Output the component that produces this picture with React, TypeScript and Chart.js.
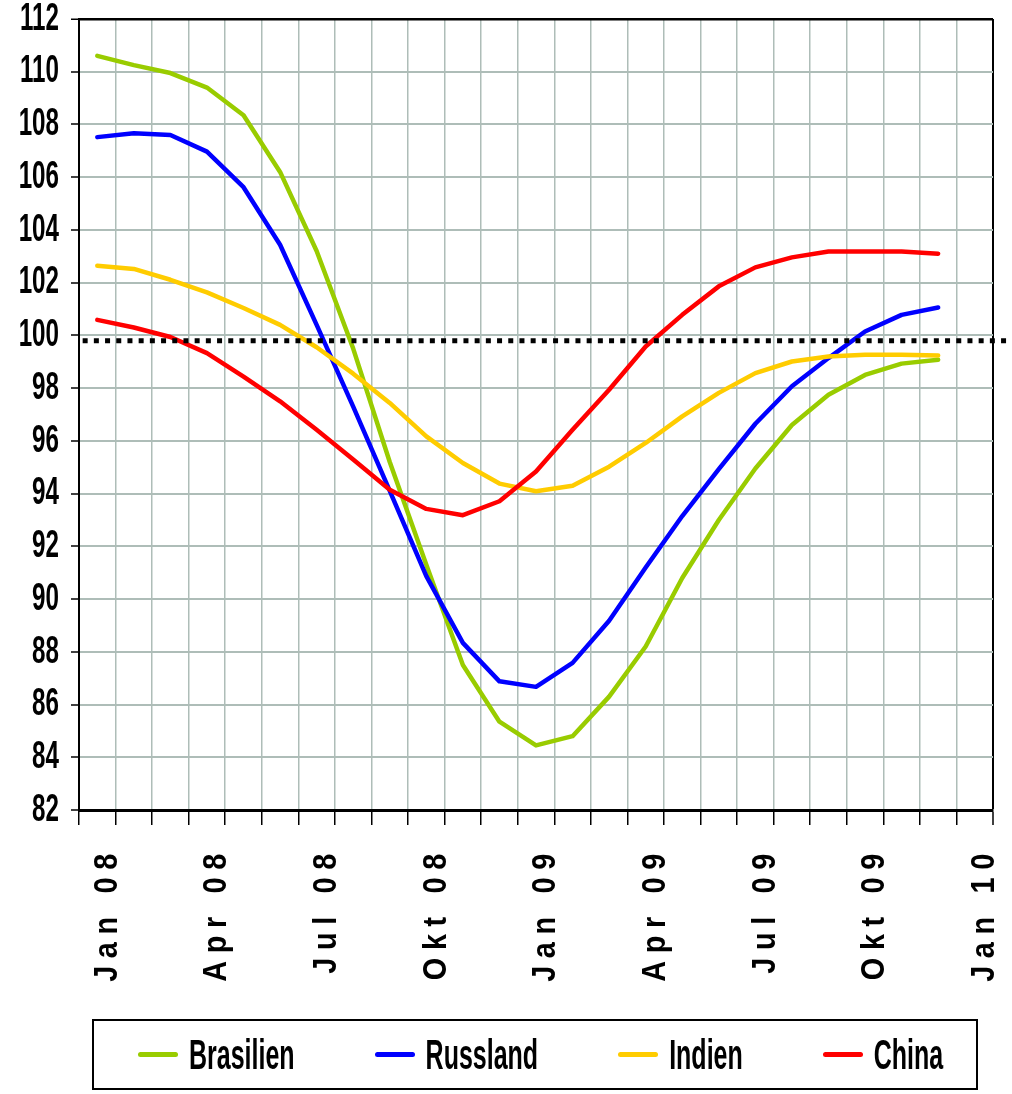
import React, { useEffect, useRef } from 'react';
import { Chart, registerables } from 'chart.js';

Chart.register(...registerables);

// ---- data ----
const months = [
  'Jan 08', 'Feb 08', 'Mrz 08', 'Apr 08', 'Mai 08', 'Jun 08', 'Jul 08', 'Aug 08', 'Sep 08', 'Okt 08', 'Nov 08', 'Dez 08',
  'Jan 09', 'Feb 09', 'Mrz 09', 'Apr 09', 'Mai 09', 'Jun 09', 'Jul 09', 'Aug 09', 'Sep 09', 'Okt 09', 'Nov 09', 'Dez 09',
  'Jan 10',
];
const shownLabels = ['Jan 08', 'Apr 08', 'Jul 08', 'Okt 08', 'Jan 09', 'Apr 09', 'Jul 09', 'Okt 09', 'Jan 10'];

const brasilien = [110.6, 110.25, 109.95, 109.4, 108.35, 106.2, 103.2, 99.5, 95.2, 91.3, 87.5, 85.35, 84.45, 84.8, 86.3, 88.2, 90.8, 93.0, 94.95, 96.6, 97.75, 98.5, 98.93, 99.08];
const russland = [107.52, 107.67, 107.6, 106.97, 105.62, 103.44, 100.4, 97.3, 94.1, 90.87, 88.34, 86.88, 86.67, 87.58, 89.18, 91.2, 93.15, 94.93, 96.65, 98.07, 99.14, 100.15, 100.78, 101.06];
const indien = [102.64, 102.52, 102.11, 101.63, 101.04, 100.4, 99.55, 98.55, 97.44, 96.17, 95.16, 94.38, 94.09, 94.3, 95.02, 95.92, 96.93, 97.82, 98.57, 99.01, 99.2, 99.27, 99.27, 99.24];
const china = [100.59, 100.3, 99.94, 99.33, 98.44, 97.5, 96.42, 95.29, 94.15, 93.42, 93.18, 93.71, 94.84, 96.42, 97.94, 99.58, 100.78, 101.86, 102.58, 102.96, 103.18, 103.18, 103.18, 103.1];

const seriesNames = ['Brasilien', 'Russland', 'Indien', 'China'];
const seriesColors = ['#99CC00', '#0000FF', '#FFCC00', '#FF0000'];
const seriesData = [brasilien, russland, indien, china];

const referenceLevel = 99.8;
const referenceSpan = [0.1, 25.45];

const yMin = 82;
const yMax = 112;
const yStep = 2;

const GRID = '#AEBDB8';
const FONT = "'Liberation Sans', Arial, sans-serif";

const X_SPACING = '9px';
const X_SQUEEZE = 0.85;
const Y_SQUEEZE = 0.62;

const textShapePlugin = {
  id: 'textShape',
  beforeDraw(chart: any) {
    const ctx = chart.ctx;
    const shape = (scale: any, spacing: string, factor: number) => {
      const items = scale.getLabelItems();
      ctx.save();
      ctx.letterSpacing = spacing;
      items.forEach((it: any) => {
        const text = String(it.label ?? '');
        ctx.font = it.font.string;
        const w = ctx.measureText(text).width;
        it.options.maxWidth = Math.max(w * factor, 1);
      });
      ctx.restore();
    };
    shape(chart.scales.y, '0px', Y_SQUEEZE);
    shape(chart.scales.x, X_SPACING, X_SQUEEZE);
    ctx.letterSpacing = '0px';
  },
  afterDatasetsDraw(chart: any) {
    chart.ctx.letterSpacing = X_SPACING;
  },
  afterDraw(chart: any) {
    chart.ctx.letterSpacing = '0px';
  },
};

const zeroPadding = (s: any) => {
  s.paddingTop = 0;
  s.paddingBottom = 0;
  s.paddingLeft = 0;
  s.paddingRight = 0;
};

export default function App() {
  const ref = useRef<HTMLCanvasElement | null>(null);

  useEffect(() => {
    if (!ref.current) return;
    const datasets: any[] = seriesNames.map((name, i) => ({
      label: name,
      data: seriesData[i],
      borderColor: seriesColors[i],
      backgroundColor: seriesColors[i],
      borderWidth: 4.5,
      pointRadius: 0,
      tension: 0,
      fill: false,
      borderJoinStyle: 'round',
      borderCapStyle: 'round',
      order: seriesNames.length - i,
      xAxisID: 'x',
    }));
    datasets.push({
      label: 'Referenz',
      data: referenceSpan.map((x) => ({ x, y: referenceLevel })),
      borderColor: '#000000',
      borderWidth: 5,
      borderDash: [5, 6.2],
      borderCapStyle: 'butt',
      pointRadius: 0,
      fill: false,
      clip: false,
      order: -1,
      xAxisID: 'x2',
    });

    const chart = new Chart(ref.current, {
      type: 'line',
      data: { labels: months, datasets },
      plugins: [textShapePlugin],
      options: {
        animation: false,
        responsive: false,
        layout: { padding: { top: 19, right: 19, left: 0, bottom: 0 } },
        plugins: { legend: { display: false }, tooltip: { enabled: false } },
        scales: {
          x: {
            type: 'category',
            offset: true,
            afterFit: (s: any) => {
              s.height = 284;
              zeroPadding(s);
            },
            grid: {
              offset: true,
              z: -1,
              color: (c: any) => (c.tick ? GRID : '#000000'),
              lineWidth: (c: any) => (c.tick ? 1.5 : 2),
              tickColor: '#000000',
              tickWidth: 1.5,
              tickLength: 15,
              drawTicks: true,
            },
            border: { display: true, color: '#000000', width: 3 },
            ticks: {
              z: 1,
              autoSkip: false,
              minRotation: 90,
              maxRotation: 90,
              padding: 21,
              labelOffset: 10,
              color: '#000000',
              font: { family: FONT, size: 34, weight: 'bold' },
              callback: (_v: any, idx: number) => (shownLabels.includes(months[idx]) ? months[idx] : ''),
            },
          },
          x2: {
            type: 'linear',
            display: false,
            min: 0,
            max: 25,
          },
          y: {
            type: 'linear',
            min: yMin,
            max: yMax,
            afterFit: (s: any) => {
              s.width = 79;
              zeroPadding(s);
            },
            grid: {
              z: -1,
              color: (c: any) => (c.tick && c.tick.value === yMax ? '#000000' : GRID),
              lineWidth: (c: any) => (c.tick && c.tick.value === yMax ? 2.5 : 2),
              tickColor: '#000000',
              tickWidth: 1.5,
              tickLength: 8,
            },
            border: { display: true, color: '#000000', width: 2 },
            ticks: {
              stepSize: yStep,
              padding: 12,
              color: '#000000',
              font: { family: FONT, size: 39, weight: 'bold' },
            },
          },
        },
      } as any,
    });
    return () => chart.destroy();
  }, []);

  return (
    <div style={{ position: 'absolute', left: 0, top: 0, width: 1012, height: 1094, background: '#ffffff' }}>
      <canvas ref={ref} width={1012} height={1094} style={{ display: 'block' }} />
      <div
        style={{
          position: 'absolute',
          left: 92,
          top: 1019,
          width: 886,
          height: 71,
          boxSizing: 'border-box',
          border: '2px solid #000000',
          display: 'flex',
          alignItems: 'center',
          paddingLeft: 44,
        }}
      >
        {seriesNames.map((name, i) => (
          <div key={name} style={{ display: 'flex', alignItems: 'center', marginRight: i < seriesNames.length - 1 ? 80 : 0 }}>
            <div style={{ width: 40, height: 5, borderRadius: 3, background: seriesColors[i], marginRight: 11 }} />
            <span
              style={{
                fontFamily: FONT,
                fontWeight: 'bold',
                fontSize: 25,
                display: 'inline-block',
                transform: 'scaleY(1.72)',
                color: '#000000',
                lineHeight: 1,
              }}
            >
              {name}
            </span>
          </div>
        ))}
      </div>
    </div>
  );
}
